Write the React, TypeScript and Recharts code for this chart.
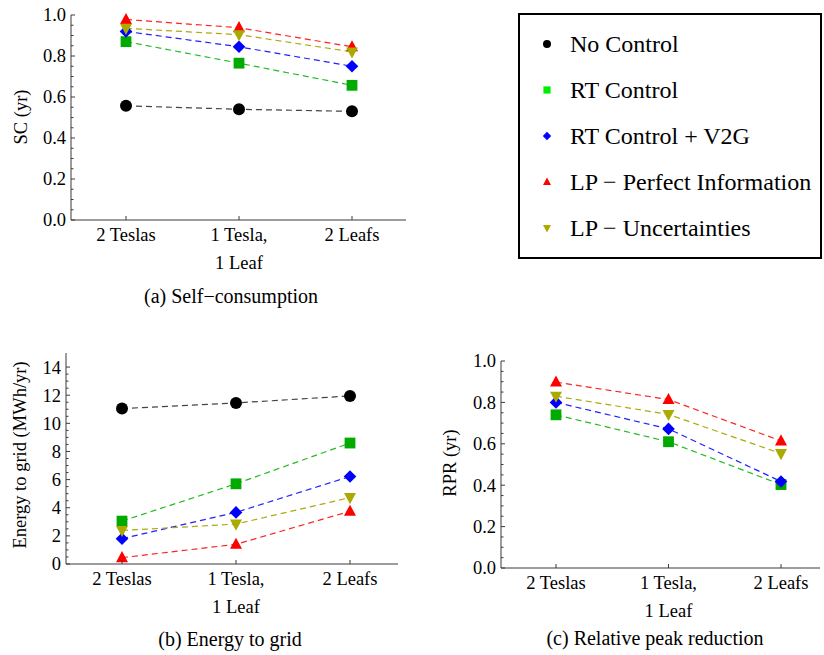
import React from "react";
import { LineChart, Line, XAxis, YAxis } from "recharts";

const categories = ["2 Teslas", "1 Tesla,\n1 Leaf", "2 Leafs"];

// (a) self-consumption
const scNoControl = [0.557, 0.54, 0.53];
const scRT = [0.87, 0.765, 0.657];
const scV2G = [0.92, 0.845, 0.75];
const scLPPerfect = [0.978, 0.938, 0.845];
const scLPUncert = [0.935, 0.904, 0.82];

// (b) energy to grid
const egNoControl = [11.05, 11.45, 11.95];
const egRT = [3.05, 5.7, 8.6];
const egV2G = [1.8, 3.67, 6.22];
const egLPPerfect = [0.45, 1.4, 3.75];
const egLPUncert = [2.38, 2.84, 4.72];

// (c) relative peak reduction
const rprRT = [0.74, 0.61, 0.403];
const rprV2G = [0.8, 0.672, 0.418];
const rprLPPerfect = [0.898, 0.814, 0.614];
const rprLPUncert = [0.83, 0.742, 0.553];

const scMajor = [0, 0.2, 0.4, 0.6, 0.8, 1.0];
const egMajor = [0, 2, 4, 6, 8, 10, 12, 14];
const rprMajor = [0, 0.2, 0.4, 0.6, 0.8, 1.0];

const series = [
  { key: "noControl", name: "No Control", color: "#000000", line: "#444444", legend: "#000000", shape: "circle" },
  { key: "rt", name: "RT Control", color: "#00aa00", line: "#22bb22", legend: "#00ee00", shape: "square" },
  { key: "v2g", name: "RT Control + V2G", color: "#0000ff", line: "#2222ff", legend: "#0000ff", shape: "diamond" },
  { key: "lpPerfect", name: "LP \u2212 Perfect Information", color: "#ff0000", line: "#ff2222", legend: "#ff0000", shape: "up" },
  { key: "lpUncert", name: "LP \u2212 Uncertainties", color: "#aaaa00", line: "#aaaa11", legend: "#aaaa00", shape: "down" },
];

const scData = categories.map((cat, i) => ({
  cat,
  noControl: scNoControl[i],
  rt: scRT[i],
  v2g: scV2G[i],
  lpPerfect: scLPPerfect[i],
  lpUncert: scLPUncert[i],
}));

const egData = categories.map((cat, i) => ({
  cat,
  noControl: egNoControl[i],
  rt: egRT[i],
  v2g: egV2G[i],
  lpPerfect: egLPPerfect[i],
  lpUncert: egLPUncert[i],
}));

const rprData = categories.map((cat, i) => ({
  cat,
  rt: rprRT[i],
  v2g: rprV2G[i],
  lpPerfect: rprLPPerfect[i],
  lpUncert: rprLPUncert[i],
}));

const FONT = "'Liberation Serif', 'Times New Roman', serif";
const AXIS = "#3a3a3a";
const TICK_FS = 18.5;

// major ticks plus 3 minor ticks in each gap
function withMinor(major: number[]) {
  const out: number[] = [];
  for (let i = 0; i < major.length - 1; i++) {
    const step = (major[i + 1] - major[i]) / 4;
    for (let k = 0; k < 4; k++) out.push(Math.round((major[i] + k * step) * 1000) / 1000);
  }
  out.push(major[major.length - 1]);
  return out;
}

function Marker({ shape, cx, cy, color, s }: any) {
  if (cx == null || cy == null) return null;
  const h = s / 2;
  if (shape === "circle") return <circle cx={cx} cy={cy} r={h} fill={color} />;
  if (shape === "square")
    return <rect x={cx - h * 0.9} y={cy - h * 0.9} width={s * 0.9} height={s * 0.9} fill={color} />;
  if (shape === "diamond")
    return <polygon points={`${cx},${cy - h * 1.05} ${cx + h * 1.05},${cy} ${cx},${cy + h * 1.05} ${cx - h * 1.05},${cy}`} fill={color} />;
  if (shape === "up")
    return <polygon points={`${cx},${cy - h * 1.1} ${cx + h},${cy + h * 0.75} ${cx - h},${cy + h * 0.75}`} fill={color} />;
  return <polygon points={`${cx},${cy + h * 1.1} ${cx + h},${cy - h * 0.75} ${cx - h},${cy - h * 0.75}`} fill={color} />;
}

function makeYTick(major: number[], digits: number) {
  return (props: any) => {
    const { x, y, payload } = props;
    const v = payload.value;
    const isMajor = major.some((m) => Math.abs(m - v) < 1e-6);
    return (
      <g>
        <line x1={x} x2={x + (isMajor ? 4 : 2.5)} y1={y} y2={y} stroke={AXIS} strokeWidth={1} />
        {isMajor && (
          <text x={x - 5} y={y} dy="0.35em" textAnchor="end" fontFamily={FONT} fontSize={TICK_FS} fill="#000">
            {v.toFixed(digits)}
          </text>
        )}
      </g>
    );
  };
}

function XTick(props: any) {
  const { x, y, payload } = props;
  const lines = String(payload.value).split("\n");
  return (
    <g>
      <line x1={x} x2={x} y1={y} y2={y - 4} stroke={AXIS} strokeWidth={1} />
      {lines.map((t, i) => (
        <text key={i} x={x} y={y + 21 + i * 28} textAnchor="middle" fontFamily={FONT} fontSize={TICK_FS} fill="#000">
          {t}
        </text>
      ))}
    </g>
  );
}

function Panel({ data, keys, width, height, margin, yWidth, xHeight, padding, domain, major, digits }: any) {
  return (
    <LineChart width={width} height={height} data={data} margin={margin}>
      <XAxis
        dataKey="cat"
        type="category"
        interval={0}
        height={xHeight}
        padding={padding}
        tickSize={0}
        tickMargin={0}
        tickLine={false}
        axisLine={{ stroke: AXIS, strokeWidth: 1 }}
        tick={XTick}
      />
      <YAxis
        type="number"
        domain={domain}
        ticks={withMinor(major)}
        interval={0}
        width={yWidth}
        tickSize={0}
        tickMargin={0}
        tickLine={false}
        axisLine={{ stroke: AXIS, strokeWidth: 1 }}
        tick={makeYTick(major, digits)}
      />
      {series
        .filter((s) => keys.includes(s.key))
        .map((s) => (
          <Line
            key={s.key}
            dataKey={s.key}
            stroke={s.line}
            strokeWidth={1.2}
            strokeDasharray="6 4"
            isAnimationActive={false}
            dot={(p: any) => (
              <Marker key={`${s.key}-${p.index}`} shape={s.shape} cx={p.cx} cy={p.cy} color={s.color} s={12} />
            )}
            activeDot={false}
          />
        ))}
    </LineChart>
  );
}

const textStyle: React.CSSProperties = {
  position: "absolute",
  fontFamily: FONT,
  color: "#000",
  whiteSpace: "nowrap",
  lineHeight: 1,
};

function YLabel({ x, y, text }: { x: number; y: number; text: string }) {
  return (
    <div style={{ ...textStyle, left: x, top: y, fontSize: 18.5, transform: "translate(-50%, -50%) rotate(-90deg)" }}>
      {text}
    </div>
  );
}

function Caption({ x, y, text }: { x: number; y: number; text: string }) {
  return (
    <div style={{ ...textStyle, left: x, top: y, fontSize: 20, transform: "translate(-50%, -50%)" }}>
      {text}
    </div>
  );
}

export default function App() {
  const allKeys = series.map((s) => s.key);
  return (
    <div style={{ position: "absolute", left: 0, top: 0, width: 824, height: 655, background: "#fff", overflow: "hidden" }}>
      <div style={{ position: "absolute", left: 0, top: 0 }}>
        <Panel
          data={scData}
          keys={allKeys}
          width={420}
          height={290}
          margin={{ top: 15, right: 14, bottom: 0, left: 0 }}
          yWidth={71}
          xHeight={70}
          padding={{ left: 55, right: 54 }}
          domain={[0, 1]}
          major={scMajor}
          digits={1}
        />
      </div>
      <div style={{ position: "absolute", left: 0, top: 330 }}>
        <Panel
          data={egData}
          keys={allKeys}
          width={410}
          height={325}
          margin={{ top: 23, right: 12, bottom: 0, left: 0 }}
          yWidth={66}
          xHeight={91}
          padding={{ left: 56, right: 48 }}
          domain={[0, 15]}
          major={egMajor}
          digits={0}
        />
      </div>
      <div style={{ position: "absolute", left: 420, top: 330 }}>
        <Panel
          data={rprData}
          keys={["rt", "v2g", "lpPerfect", "lpUncert"]}
          width={404}
          height={325}
          margin={{ top: 31, right: 4, bottom: 0, left: 0 }}
          yWidth={81}
          xHeight={87}
          padding={{ left: 55, right: 39 }}
          domain={[0, 1]}
          major={rprMajor}
          digits={1}
        />
      </div>

      <YLabel x={21} y={117} text="SC (yr)" />
      <YLabel x={20} y={455} text="Energy to grid (MWh/yr)" />
      <YLabel x={450} y={463} text="RPR (yr)" />

      <Caption x={231} y={296} text={"(a) Self\u2212consumption"} />
      <Caption x={230} y={639} text="(b) Energy to grid" />
      <Caption x={655} y={638} text="(c) Relative peak reduction" />

      <div
        style={{
          position: "absolute",
          left: 518,
          top: 13,
          width: 304,
          height: 246,
          boxSizing: "border-box",
          border: "2.5px solid #000",
          background: "#fff",
        }}
      >
        {series.map((s, i) => (
          <div key={s.key} style={{ position: "absolute", left: 0, top: 29 + i * 46 - 13, height: 26, width: 300 }}>
            <svg width={20} height={20} style={{ position: "absolute", left: 17, top: 3 }}>
              <Marker shape={s.shape} cx={10} cy={10} color={s.legend} s={8} />
            </svg>
            <div style={{ ...textStyle, left: 50, top: 1, fontSize: 24 }}>{s.name}</div>
          </div>
        ))}
      </div>
    </div>
  );
}
